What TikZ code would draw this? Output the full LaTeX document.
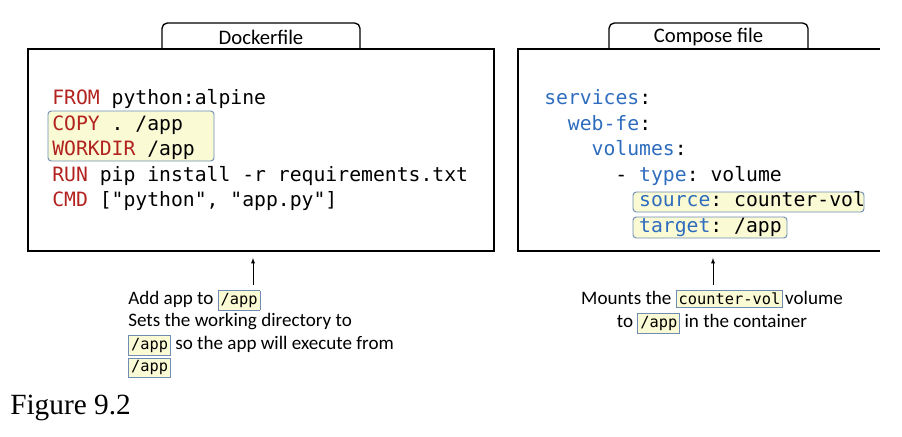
\documentclass[tikz,border=0pt]{standalone}
\usepackage{fontspec}
\setmainfont{Carlito}
\setmonofont{DejaVu Sans Mono}
\newfontfamily\figfont{Liberation Serif}

\definecolor{kwred}{RGB}{178,34,30}
\definecolor{keyblue}{RGB}{46,108,190}
\definecolor{hlfill}{RGB}{250,250,212}
\definecolor{hlline}{RGB}{110,140,180}

\newcommand{\codefont}{\ttfamily\fontsize{14.8}{18}\selectfont}
\newcommand{\capfont}{\fontsize{14.3}{16.9}\selectfont}
\newcommand{\kw}[1]{\textcolor{kwred}{#1}}
\newcommand{\ky}[1]{\textcolor{keyblue}{#1}}
\setlength{\fboxsep}{1.6pt}
\setlength{\fboxrule}{0.6pt}
\newcommand{\codetag}[1]{\fcolorbox{hlline}{hlfill}{\ttfamily\fontsize{11.5}{13}\selectfont #1}}

\tikzset{
  codeline/.style={anchor=base west, inner sep=0pt, font=\codefont},
  filebox/.style={line width=1.4pt},
  tabbox/.style={line width=1pt, rounded corners=4pt},
  hlbox/.style={draw=hlline, fill=hlfill, rounded corners=2.5pt, line width=0.7pt},
  caption/.style={font=\capfont, inner sep=0pt},
}

\begin{document}
\begin{tikzpicture}[x=0.75pt, y=-0.75pt]
  \useasboundingbox (0,0) rectangle (902,436);

  % Dockerfile
  \draw [tabbox] (162,49) -- (162,23) -- (360,23) -- (360,49);
  \node [font=\fontsize{15.5}{18}\selectfont] (dockhead) at (261,37) {Dockerfile};
  \draw [filebox] (28,49) rectangle (494,251);
  \draw [hlbox] (48,111) rectangle (214,161);
  \node [codeline] (from) at (52,104.5) {\kw{FROM} python:alpine};
  \node [codeline] (copy) at (52,130) {\kw{COPY} . /app};
  \node [codeline] (workdir) at (52,155.5) {\kw{WORKDIR} /app};
  \node [codeline] (run) at (52,181) {\kw{RUN} pip install -r requirements.txt};
  \node [codeline] (cmd) at (52,206.5) {\kw{CMD} ["python", "app.py"]};

  % Compose file
  \draw [tabbox] (609,49) -- (609,23) -- (808,23) -- (808,49);
  \node [font=\fontsize{15.5}{18}\selectfont] (composehead) at (708.5,37) {Compose file};
  \draw [filebox] (880,49) -- (518,49) -- (518,251) -- (880,251);
  \draw [hlbox] (633,192) rectangle (864,212);
  \draw [hlbox] (633,217) rectangle (787,238);
  \node [codeline] (services) at (544,104.5) {\ky{services}:};
  \node [codeline] (webfe) at (567.7,130) {\ky{web-fe}:};
  \node [codeline] (volumes) at (591.4,155.5) {\ky{volumes}:};
  \node [codeline] (type) at (615.2,181) {- \ky{type}: volume};
  \node [codeline] (source) at (638.9,206.5) {\ky{source}: counter-vol};
  \node [codeline] (target) at (638.9,232) {\ky{target}: /app};

  % captions
  \node [caption, align=left, anchor=north west] (dockcap) at (128,290)
    {Add app to \codetag{/app}\\
     Sets the working directory to\\
     \codetag{/app} so the app will execute from\\
     \codetag{/app}};
  \node [caption, align=center, anchor=north] (composecap) at (712,290)
    {Mounts the \codetag{counter-vol}\kern1.5pt volume\\
     to \codetag{/app} in the container};

  \coordinate (dockarr) at (253,258);
  \coordinate (composearr) at (713,258);
  \draw [-latex] (dockarr |- dockcap.north) ++(0,-5) -- (dockarr);
  \draw [-latex] (composearr |- composecap.north) ++(0,-5) -- (composearr);

  \node [font=\figfont\fontsize{22}{25}\selectfont, anchor=west, inner sep=0pt] (figlabel) at (10,408) {Figure 9.2};
\end{tikzpicture}
\end{document}
